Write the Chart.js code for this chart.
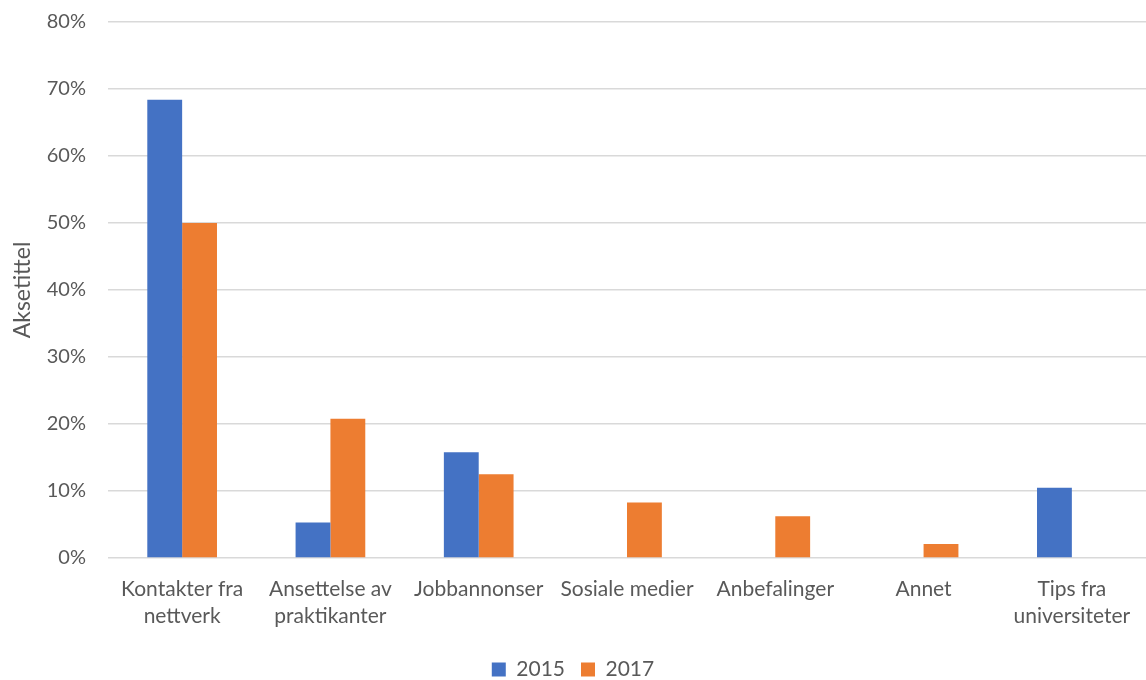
<!DOCTYPE html>
<html>
<head>
<meta charset="utf-8">
<script src="https://cdn.jsdelivr.net/npm/chart.js@4/dist/chart.umd.min.js"></script>
<style>
html,body{margin:0;padding:0;background:#fff;}
#wrap{width:1146px;height:680px;position:relative;}
</style>
</head>
<body>
<div id="wrap"><canvas id="c" width="1146" height="680"></canvas></div>
<script>
const categories = [["Kontakter fra","nettverk"],["Ansettelse av","praktikanter"],"Jobbannonser","Sosiale medier","Anbefalinger","Annet",["Tips fra","universiteter"]];
const series2015 = [68.4, 5.3, 15.8, null, null, null, 10.5];
const series2017 = [50.0, 20.8, 12.5, 8.3, 6.25, 2.1, null];
const yTicks = [0,10,20,30,40,50,60,70,80];
const FONT = "Lato";
const TXT = "#595959";

new Chart(document.getElementById('c'), {
  type: 'bar',
  data: {
    labels: categories,
    datasets: [
      {label: '2015', data: series2015, backgroundColor: '#4472C4', categoryPercentage: 0.47, barPercentage: 1.0},
      {label: '2017', data: series2017, backgroundColor: '#ED7D31', categoryPercentage: 0.47, barPercentage: 1.0}
    ]
  },
  options: {
    responsive: false,
    animation: false,
    layout: {padding: {top: 22, right: 0, left: 0, bottom: -10}},
    plugins: {
      legend: {
        position: 'bottom',
        labels: {font: {family: FONT, size: 21}, color: TXT, boxWidth: 14, boxHeight: 14, padding: 16}
      },
      tooltip: {enabled: false}
    },
    scales: {
      x: {
        grid: {display: false},
        border: {display: false},
        afterFit: (s) => { s.height = 85; },
        ticks: {font: {family: FONT, size: 21, lineHeight: 1.28}, color: TXT, maxRotation: 0, autoSkip: false, padding: 10}
      },
      y: {
        min: 0, max: 80,
        afterBuildTicks: (s) => { s.ticks = yTicks.map(v => ({value: v})); },
        afterFit: (s) => { s.width = 108; s.paddingTop = 0; s.paddingBottom = 0; },
        grid: {color: '#d9d9d9', lineWidth: 1.5, drawTicks: false},
        border: {display: false},
        ticks: {font: {family: FONT, size: 20}, color: TXT, padding: 22, callback: v => v + '%'},
        title: {display: true, text: 'Aksetittel', font: {family: FONT, size: 23}, color: TXT, padding: {top: 9, bottom: 0}}
      }
    }
  }
});
</script>
</body>
</html>
